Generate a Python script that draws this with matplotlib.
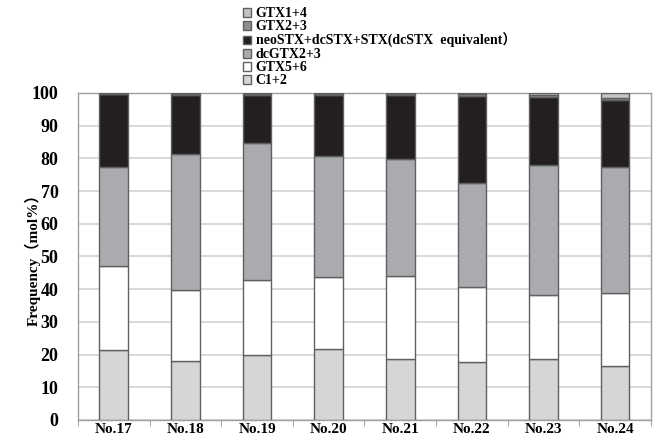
import matplotlib.pyplot as plt
import numpy as np

# Composición de toxinas por muestra (mol%)
muestras = ['No.17', 'No.18', 'No.19', 'No.20', 'No.21', 'No.22', 'No.23', 'No.24']
c12 = [21.4, 18.0, 20.0, 21.6, 18.8, 17.7, 18.6, 16.4]
gtx56 = [25.6, 21.9, 22.8, 22.0, 25.1, 23.0, 19.6, 22.5]
dcgtx23 = [30.5, 41.5, 42.0, 37.2, 36.0, 31.8, 39.8, 38.4]
neostx = [22.1, 18.1, 14.6, 18.6, 19.5, 26.6, 20.9, 20.7]
gtx23 = [0.2, 0.3, 0.3, 0.3, 0.3, 0.5, 0.6, 0.4]
gtx14 = [0.2, 0.2, 0.3, 0.3, 0.3, 0.4, 0.5, 1.6]

series = [
    ('C1+2', c12, '#d6d6d6'),
    ('GTX5+6', gtx56, '#ffffff'),
    ('dcGTX2+3', dcgtx23, '#aaabae'),
    ('neoSTX+dcSTX+STX(dcSTX  equivalent）', neostx, '#231f20'),
    ('GTX2+3', gtx23, '#8e8e90'),
    ('GTX1+4', gtx14, '#c4c4c6'),
]

serif = ['Liberation Serif', 'Noto Sans CJK JP']

fig = plt.figure(figsize=(6.57, 4.42), dpi=100)
ax = fig.add_axes([0.1187, 0.0498, 0.872, 0.7398])

x = np.arange(len(muestras))
base = np.zeros(len(muestras))
handles = []
for nombre, valores, color in series:
    b = ax.bar(x, valores, 0.40, bottom=base, color=color,
               edgecolor='#606060', linewidth=1.0, label=nombre, zorder=3)
    handles.append(b)
    base += np.array(valores)

ax.set_xlim(-0.5, len(muestras) - 0.5)
ax.set_ylim(0, 100)
ax.set_yticks(range(0, 101, 10))
ax.yaxis.grid(True, color='#d2d2d2', linewidth=1.2, zorder=0)
ax.tick_params(axis='y', length=0, pad=14)
ax.set_yticklabels([str(v) for v in range(0, 101, 10)],
                   fontfamily=serif, fontweight='bold', fontsize=13)

# marcas del eje x entre categorías
ax.set_xticks(x)
ax.set_xticklabels(muestras, fontfamily=serif, fontweight='bold', fontsize=11)
ax.tick_params(axis='x', length=0, pad=2)
ax.set_xticks(np.arange(-0.5, len(muestras), 1), minor=True)
ax.tick_params(axis='x', which='minor', length=4, color='#909090')

for lado in ['left', 'right', 'top', 'bottom']:
    ax.spines[lado].set_color('#a0a0a0')
    ax.spines[lado].set_linewidth(1.0)

fig.text(0.05, 0.42, 'Frequency（mol%）', rotation=90, ha='center', va='center',
         fontfamily=serif, fontweight='bold', fontsize=11)

fig.legend(handles[::-1], [s[0] for s in series][::-1], loc='upper left',
           bbox_to_anchor=(243 / 657, 1 - 7 / 442), frameon=False,
           prop={'family': serif, 'weight': 'bold', 'size': 10},
           handlelength=0.6, handleheight=0.6, handletextpad=0.3,
           labelspacing=0.0, borderaxespad=0, borderpad=0)

fig.savefig('out.png', dpi=100)
